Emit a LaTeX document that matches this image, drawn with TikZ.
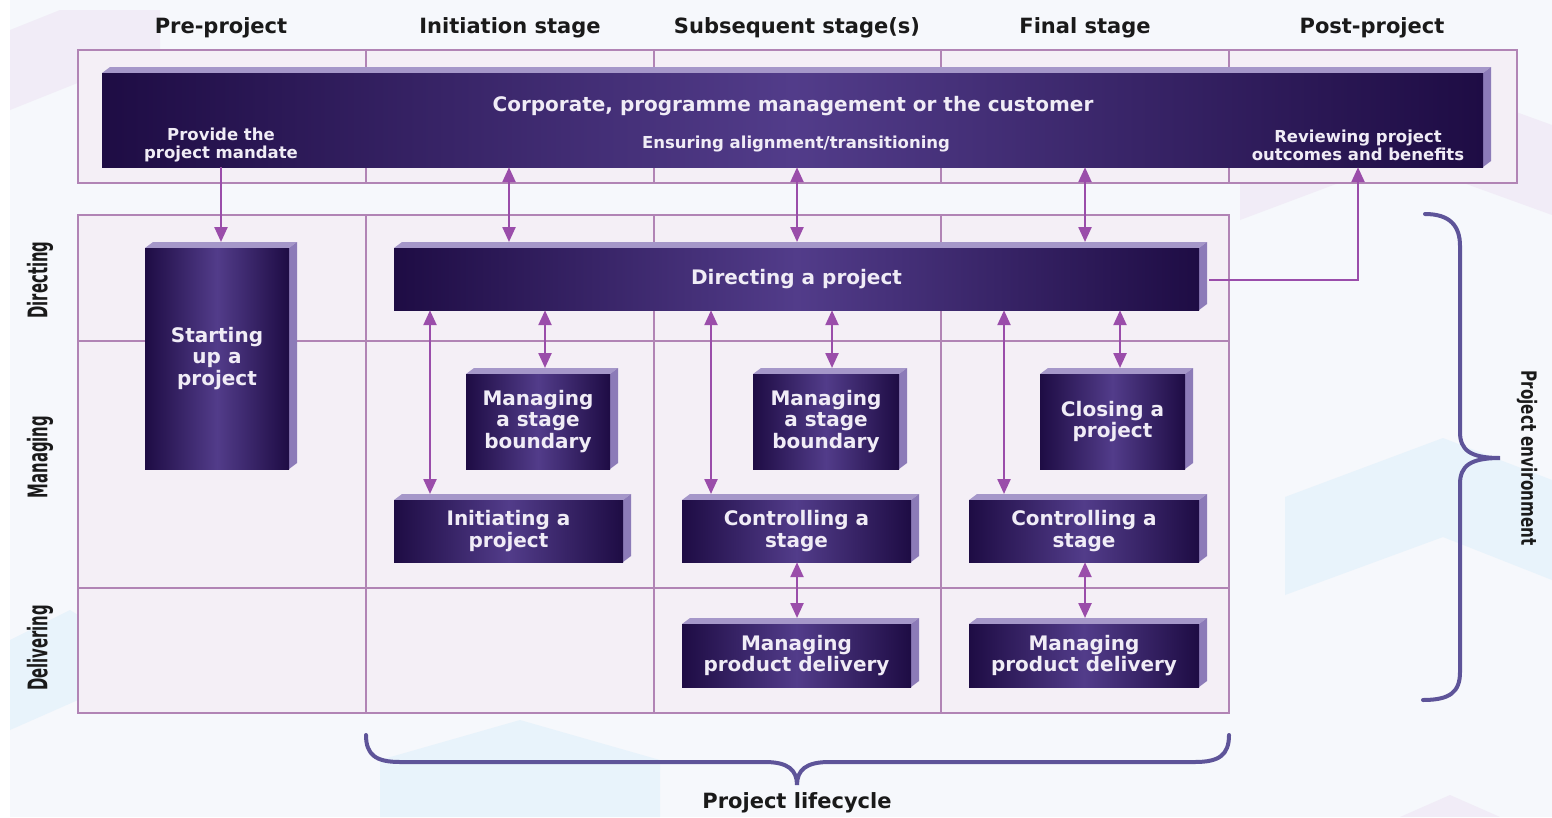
\documentclass[tikz,border=0pt]{standalone}
\usepackage{fontspec}
\setmainfont{DejaVu Sans}
\usetikzlibrary{arrows.meta}
\definecolor{gridline}{HTML}{B184B5}
\definecolor{cellfill}{HTML}{F4EFF6}
\definecolor{boxdark}{HTML}{1E0C44}
\definecolor{boxmid}{HTML}{523C8A}
\definecolor{boxtop}{HTML}{A597C9}
\definecolor{boxside}{HTML}{8C7BB8}
\definecolor{arrowc}{HTML}{9A4DAA}
\definecolor{bracec}{HTML}{5E5499}
\definecolor{boxtext}{HTML}{F0ECF6}
\definecolor{bgc}{HTML}{F6F8FC}
\definecolor{headc}{HTML}{1A1A1A}
\definecolor{chevblue}{HTML}{E8F3FB}
\definecolor{chevlav}{HTML}{F1ECF7}
\newcommand\drawdbox[6]{%
  \fill[boxtop] (#2,#3) -- (#2+8,#3-6) -- (#4+8,#3-6) -- (#4,#3) -- cycle;
  \fill[boxside] (#4,#3) -- (#4+8,#3-6) -- (#4+8,#5-6) -- (#4,#5) -- cycle;
  \node[dbox, minimum width={#4-#2}, minimum height={#5-#3}] (#1) at ({(#2+#4)/2},{(#3+#5)/2}) {#6};
  \coordinate (#1top) at (#2,#3-6);
}
\begin{document}
\begin{tikzpicture}[x=1pt,y=-1pt,
  gline/.style={draw=gridline,line width=1.8pt},
  cellbox/.style={draw=gridline,line width=1.8pt,fill=cellfill},
  dbox/.style={left color=boxdark, right color=boxdark, middle color=boxmid, text=boxtext,
     font=\bfseries\fontsize{20}{21.5}\selectfont, align=center, inner sep=0pt},
  headtext/.style={text=headc,font=\bfseries\fontsize{21}{24}\selectfont},
  rowlab/.style={text=headc,font=\bfseries\fontsize{27}{30}\selectfont,rotate=90},
  smalltext/.style={text=boxtext,font=\bfseries\fontsize{16.5}{18}\selectfont,align=center},
  arr/.style={draw=arrowc,line width=2.4pt,>={Triangle[width=13pt,length=15pt]}},
  bracestyle/.style={draw=bracec,line width=4pt,line cap=round}]
\useasboundingbox (0,0) rectangle (1552,817);
\fill[bgc] (0,0) rectangle (1552,817);
% faint background chevrons
\fill[chevblue] (1285,497) -- (1443,438) -- (1552,480) -- (1552,580) -- (1443,537) -- (1285,595) -- cycle;
\fill[chevlav] (1240,130) -- (1400,70) -- (1552,125) -- (1552,215) -- (1400,160) -- (1240,220) -- cycle;
\fill[chevblue] (10,640) -- (70,610) -- (78,615) -- (78,700) -- (10,730) -- cycle;
\fill[chevlav] (10,30) -- (60,10) -- (160,10) -- (160,50) -- (10,110) -- cycle;
\fill[chevblue] (380,760) -- (520,720) -- (660,760) -- (660,817) -- (380,817) -- cycle;
\fill[chevlav] (1400,817) -- (1450,795) -- (1500,817) -- cycle;
\fill[white] (0,0) rectangle (10,817);
% column reference coordinates
\foreach \xx in {221,430,509,545,711,797,832,1004,1085,1120,1358}{\coordinate (x\xx) at (\xx,0);}
% top band grid
\draw[cellbox] (78,50) rectangle (1517,183);
\foreach \xx in {366,654,941,1229}{\draw[gline] (\xx,50) -- (\xx,183);}
% main grid
\draw[cellbox] (78,215) rectangle (1229,713);
\foreach \xx in {366,654,941}{\draw[gline] (\xx,215) -- (\xx,713);}
\draw[gline] (78,341) -- (1229,341);
\draw[gline] (78,588) -- (1229,588);
% headers
\node[headtext] (h1) at (221,28) {Pre-project};
\node[headtext] (h2) at (510,28) {Initiation stage};
\node[headtext] (h3) at (797,28) {Subsequent stage(s)};
\node[headtext] (h4) at (1085,28) {Final stage};
\node[headtext] (h5) at (1372,28) {Post-project};
% row labels
\node[rowlab] (r1) at (40,280) {\scalebox{0.55}[1]{Directing}};
\node[rowlab] (r2) at (40,457) {\scalebox{0.55}[1]{Managing}};
\node[rowlab] (r3) at (40,648) {\scalebox{0.55}[1]{Delivering}};
% corporate box
\drawdbox{corp}{102}{73}{1483}{167}{}
\node[smalltext,font=\bfseries\fontsize{20}{22}\selectfont] (corptitle) at (793,106) {Corporate, programme management or the customer};
\node[smalltext] (ensure) at (796,144) {Ensuring alignment/transitioning};
\node[smalltext] (mandate) at (221,145) {Provide the\\project mandate};
\node[smalltext] (review) at (1358,145) {Reviewing project\\outcomes and benefits};
% process boxes
\drawdbox{start}{145}{248}{289}{469}{Starting\\up a\\project}
\drawdbox{dir}{394}{248}{1199}{310}{Directing a project}
\drawdbox{msb1}{466}{374}{610}{469}{Managing\\a stage\\boundary}
\drawdbox{msb2}{753}{374}{899}{469}{Managing\\a stage\\boundary}
\drawdbox{close}{1040}{374}{1185}{469}{Closing a\\project}
\drawdbox{init}{394}{500}{623}{562}{Initiating a\\project}
\drawdbox{ctrl1}{682}{500}{911}{562}{Controlling a\\stage}
\drawdbox{ctrl2}{969}{500}{1199}{562}{Controlling a\\stage}
\drawdbox{mpd1}{682}{624}{911}{687}{Managing\\product delivery}
\drawdbox{mpd2}{969}{624}{1199}{687}{Managing\\product delivery}
% arrows
\draw[arr,->] (corp.south -| x221) -- (starttop -| x221);
\draw[arr,<->] (corp.south -| x509) -- (dirtop -| x509);
\draw[arr,<->] (corp.south -| x797) -- (dirtop -| x797);
\draw[arr,<->] (corp.south -| x1085) -- (dirtop -| x1085);
\draw[arr,->] ([xshift=10pt,yshift=-1pt]dir.east) -| (corp.south -| x1358);
\draw[arr,<->] (dir.south -| x430) -- (inittop -| x430);
\draw[arr,<->] (dir.south -| x545) -- (msb1top -| x545);
\draw[arr,<->] (dir.south -| x711) -- (ctrl1top -| x711);
\draw[arr,<->] (dir.south -| x832) -- (msb2top -| x832);
\draw[arr,<->] (dir.south -| x1004) -- (ctrl2top -| x1004);
\draw[arr,<->] (dir.south -| x1120) -- (closetop -| x1120);
\draw[arr,<->] (ctrl1.south -| x797) -- (mpd1top -| x797);
\draw[arr,<->] (ctrl2.south -| x1085) -- (mpd2top -| x1085);
% braces
\draw[bracestyle] (366,735) .. controls (366,755) and (376,762) .. (400,762) -- (765,762)
  .. controls (788,762) and (797,770) .. (797,785)
  .. controls (797,770) and (806,762) .. (829,762) -- (1195,762)
  .. controls (1219,762) and (1229,755) .. (1229,735);
\node[headtext] (life) at (797,803) {Project lifecycle};
\draw[bracestyle] (1425,214) .. controls (1450,214) and (1460,226) .. (1460,246) -- (1460,432)
  .. controls (1460,450) and (1470,458) .. (1500,458)
  .. controls (1470,458) and (1460,466) .. (1460,484) -- (1460,672)
  .. controls (1460,692) and (1450,700) .. (1423,700);
\node[text=headc,font=\bfseries\fontsize{21}{24}\selectfont,rotate=-90] (env) at (1527,458) {\scalebox{0.72}[1]{Project environment}};
\end{tikzpicture}
\end{document}
